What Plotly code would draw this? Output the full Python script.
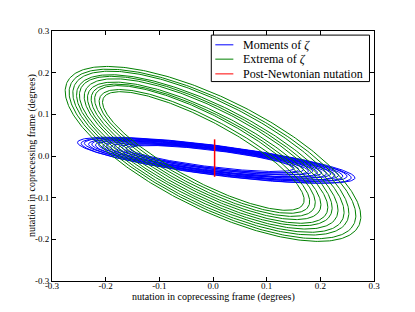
import numpy as np
import plotly.graph_objects as go

# ---- data ----
# "Extrema of zeta" (green): one ellipse per loop, inner -> outer
green_cx = [-0.018, -0.016, -0.015, -0.013, -0.010, -0.009, -0.008, -0.005, -0.004, -0.001, 0.000]
green_cy = [0.012, 0.011, 0.012, 0.010, 0.008, 0.009, 0.008, 0.006, 0.007, 0.005, 0.005]
green_a = [0.226, 0.235, 0.246, 0.255, 0.266, 0.274, 0.285, 0.294, 0.303, 0.314, 0.323]
green_b = [0.067, 0.073, 0.080, 0.085, 0.090, 0.097, 0.102, 0.107, 0.114, 0.119, 0.125]
green_ang = [-35.6, -35.4, -35.5, -35.2, -35.0, -35.1, -34.9, -34.7, -34.8, -34.6, -34.5]

# "Moments of zeta" (blue): one thin ellipse per loop, inner -> outer
blue_cx = [-0.002, -0.001, 0.000, 0.001, 0.001, 0.002, 0.002, 0.003, 0.003, 0.004, 0.004, 0.005, 0.005, 0.006, 0.006]
blue_cy = [-0.006, -0.007, -0.006, -0.008, -0.007, -0.009, -0.008, -0.009, -0.008, -0.010, -0.009, -0.010, -0.009, -0.011, -0.010]
blue_a = [0.155, 0.163, 0.171, 0.179, 0.187, 0.195, 0.203, 0.211, 0.219, 0.226, 0.233, 0.240, 0.248, 0.255, 0.262]
blue_b = [0.020, 0.022, 0.023, 0.024, 0.025, 0.027, 0.027, 0.029, 0.029, 0.031, 0.031, 0.033, 0.033, 0.035, 0.035]
blue_ang = [-9.0, -9.1, -9.1, -9.2, -9.2, -9.2, -9.3, -9.3, -9.3, -9.4, -9.4, -9.4, -9.4, -9.5, -9.5]

# "Post-Newtonian nutation" (red)
red_x = [0.003, 0.003]
red_y = [-0.05, 0.04]

tick_vals = [-0.3, -0.2, -0.1, 0.0, 0.1, 0.2, 0.3]
tick_text = ["-0.3", "-0.2", "-0.1", "0.0", "0.1", "0.2", "0.3"]

series_names = ["Moments of <i>ζ</i>", "Extrema of <i>ζ</i>", "Post-Newtonian nutation"]
series_colors = ["#0000ff", "#008000", "#ff0000"]
axis_title = "nutation in coprecessing frame (degrees)"


def loops(cx, cy, a, b, ang):
    t = np.linspace(0.0, 2.0 * np.pi, 361)
    xs, ys = [], []
    for c1, c2, A, B, th in zip(cx, cy, a, b, ang):
        r = np.radians(th)
        x = c1 + A * np.cos(t) * np.cos(r) - B * np.sin(t) * np.sin(r)
        y = c2 + A * np.cos(t) * np.sin(r) + B * np.sin(t) * np.cos(r)
        xs += list(x) + [None]
        ys += list(y) + [None]
    return xs, ys


bx, by = loops(blue_cx, blue_cy, blue_a, blue_b, blue_ang)
gx, gy = loops(green_cx, green_cy, green_a, green_b, green_ang)

fig = go.Figure()
fig.add_trace(go.Scatter(x=bx, y=by, mode="lines", name=series_names[0],
                         line=dict(color=series_colors[0], width=1)))
fig.add_trace(go.Scatter(x=gx, y=gy, mode="lines", name=series_names[1],
                         line=dict(color=series_colors[1], width=1)))
fig.add_trace(go.Scatter(x=red_x, y=red_y, mode="lines", name=series_names[2],
                         line=dict(color=series_colors[2], width=1.5)))

font_family = "Liberation Serif"
axis_common = dict(
    range=[-0.3, 0.3],
    tickvals=tick_vals, ticktext=tick_text,
    ticks="inside", ticklen=4, tickwidth=1, tickcolor="black",
    showline=True, linecolor="black", linewidth=1, mirror="ticks",
    showgrid=False, zeroline=False,
    tickfont=dict(family=font_family, size=9, color="black"),
)

# legend drawn as a framed box in paper coordinates (matplotlib-style compact legend)
shapes = [dict(type="rect", xref="paper", yref="paper", x0=0.4947, x1=0.986, y0=0.7977, y1=0.9836,
               line=dict(color="black", width=1), fillcolor="white", layer="above")]
annotations = []
row_y = [0.9447, 0.8874, 0.8285]
for name, col, yy in zip(series_names, series_colors, row_y):
    shapes.append(dict(type="line", xref="paper", yref="paper", x0=0.5072, x1=0.5632, y0=yy, y1=yy,
                       line=dict(color=col, width=1), layer="above"))
    annotations.append(dict(text=name, xref="paper", yref="paper", x=0.588, y=yy,
                            xanchor="left", yanchor="middle", showarrow=False,
                            font=dict(family=font_family, size=12, color="black")))

annotations.append(dict(text=axis_title, xref="paper", yref="paper", x=0.5, y=-0.064,
                        xanchor="center", yanchor="middle", showarrow=False,
                        font=dict(family=font_family, size=10, color="black")))
annotations.append(dict(text=axis_title, xref="paper", yref="paper", x=-0.0621, y=0.5,
                        xanchor="center", yanchor="middle", showarrow=False, textangle=-90,
                        font=dict(family=font_family, size=10, color="black")))

fig.update_layout(
    width=415, height=312, autosize=False,
    margin=dict(l=44, r=49, t=23, b=39, pad=0),
    paper_bgcolor="white", plot_bgcolor="white",
    font=dict(family=font_family, color="black"),
    xaxis=dict(**axis_common, ticklabelstandoff=-4),
    yaxis=dict(**axis_common),
    shapes=shapes,
    annotations=annotations,
    showlegend=False,
)

fig.write_html("out.html")
